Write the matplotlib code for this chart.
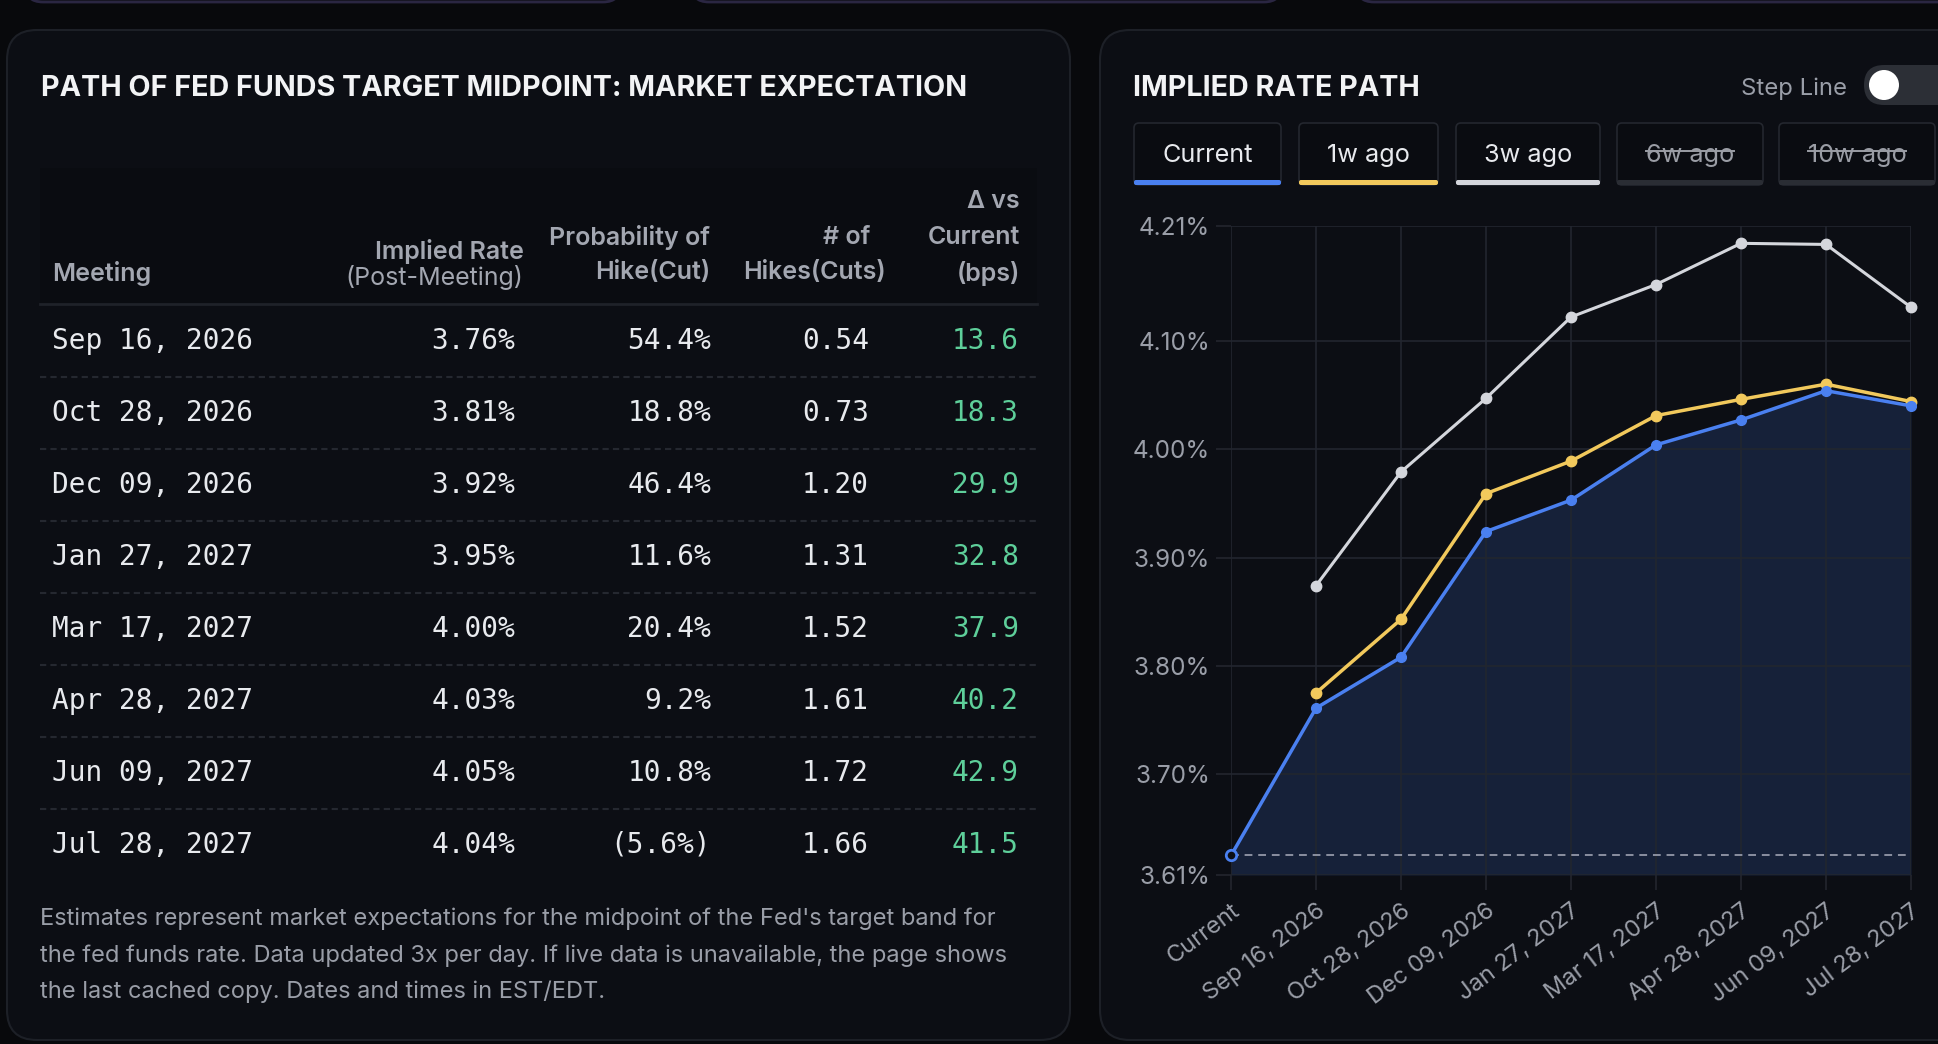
import numpy as np
import matplotlib
matplotlib.use("Agg")
import matplotlib.pyplot as plt
from matplotlib.patches import FancyBboxPatch, Rectangle, Circle

# ---- data ----
meetings = ["Sep 16, 2026", "Oct 28, 2026", "Dec 09, 2026", "Jan 27, 2027",
            "Mar 17, 2027", "Apr 28, 2027", "Jun 09, 2027", "Jul 28, 2027"]
implied_rate = [3.76, 3.81, 3.92, 3.95, 4.00, 4.03, 4.05, 4.04]
prob_hike = [54.4, 18.8, 46.4, 11.6, 20.4, 9.2, 10.8, -5.6]
num_hikes = [0.54, 0.73, 1.20, 1.31, 1.52, 1.61, 1.72, 1.66]
delta_bps = [13.6, 18.3, 29.9, 32.8, 37.9, 40.2, 42.9, 41.5]

chart_labels = ["Current"] + meetings
current_rate = 3.625
path_current = [3.625, 3.761, 3.808, 3.924, 3.953, 4.004, 4.027, 4.054, 4.040]
path_1w = [np.nan, 3.775, 3.843, 3.959, 3.989, 4.031, 4.046, 4.060, 4.044]
path_3w = [np.nan, 3.874, 3.979, 4.047, 4.122, 4.152, 4.190, 4.189, 4.131]
y_range = (3.607, 4.206)
y_ticks = [3.607, 3.70, 3.80, 3.90, 4.00, 4.10, 4.206]

buttons = ["Current", "1w ago", "3w ago", "6w ago", "10w ago"]
button_on = [True, True, True, False, False]

footnote_lines = [
    "Estimates represent market expectations for the midpoint of the Fed's target band for",
    "the fed funds rate. Data updated 3x per day. If live data is unavailable, the page shows",
    "the last cached copy. Dates and times in EST/EDT.",
]

# ---- colours ----
BG = "#08090c"
CARD = "#0c0e14"
EDGE = "#1d2027"
BLUE = "#4a80f0"
YELLOW = "#f2c95c"
GREY = "#d4d6dc"
GREEN = "#5ecf9a"
MUTED = "#9a9ea8"
WHITE = "#e8eaee"
SANS = ["Inter", "DejaVu Sans"]
MONO = "DejaVu Sans Mono"

W, H = 1938, 1044
fig = plt.figure(figsize=(W / 100, H / 100), dpi=100)
fig.patch.set_facecolor(BG)

# overlay in pixel coordinates (y down)
ov = fig.add_axes([0, 0, 1, 1])
ov.set_xlim(0, W)
ov.set_ylim(H, 0)
ov.axis("off")

# partial cards peeking in at the top
for x0, x1 in [(25, 621), (691, 1282), (1356, 1990)]:
    ov.add_patch(FancyBboxPatch((x0, -60), x1 - x0, 62, boxstyle="round,pad=0,rounding_size=18",
                                fc="#0b0c12", ec="#2a2642", lw=2))

# main cards
ov.add_patch(FancyBboxPatch((7, 30), 1063, 1010, boxstyle="round,pad=0,rounding_size=30",
                            fc=CARD, ec=EDGE, lw=1.5))
ov.add_patch(FancyBboxPatch((1100, 30), 900, 1010, boxstyle="round,pad=0,rounding_size=30",
                            fc=CARD, ec=EDGE, lw=1.5))

# ---- left panel: table ----
ov.text(41, 86, "PATH OF FED FUNDS TARGET MIDPOINT: MARKET EXPECTATION", family=SANS,
        fontsize=20.7, fontweight="bold", color="#f2f3f5", va="center_baseline", ha="left")

ov.add_patch(Rectangle((40, 168), 997, 136, fc="#0a0c11", ec="none"))
hdr = dict(family=SANS, fontsize=18, fontweight="semibold", color="#a3a7b1", va="center")
ov.text(52, 273, "Meeting", ha="left", **hdr)
ov.text(524, 251, "Implied Rate", ha="right", **hdr)
ov.text(523, 278, "(Post-Meeting)", ha="right", family=SANS, fontsize=18,
        color="#a3a7b1", va="center")
ov.text(710, 237, "Probability of", ha="right", **hdr)
ov.text(710, 273, "Hike(Cut)", ha="right", **hdr)
ov.text(870, 237, "# of", ha="right", **hdr)
ov.text(886, 273, "Hikes(Cuts)", ha="right", **hdr)
ov.text(1020, 202, "\u0394 vs", ha="right", **hdr)
ov.text(1020, 237, "Current", ha="right", **hdr)
ov.text(1020, 273, "(bps)", ha="right", **hdr)
ov.plot([40, 1037], [304, 304], color="#1f2229", lw=2)

row0, row_h = 340.7, 72.0
cell = dict(family=MONO, fontsize=20, va="center")
for i, m in enumerate(meetings):
    y = row0 + i * row_h
    p = prob_hike[i]
    p_txt = f"{p:.1f}%" if p >= 0 else f"({abs(p):.1f}%)"
    ov.text(52, y, m, ha="left", color=WHITE, **cell)
    ov.text(515, y, f"{implied_rate[i]:.2f}%", ha="right", color=WHITE, **cell)
    ov.text(711, y, p_txt, ha="right", color=WHITE, **cell)
    ov.text(869, y, f"{num_hikes[i]:.2f}", ha="right", color=WHITE, **cell)
    ov.text(1019, y, f"{delta_bps[i]:.1f}", ha="right", color=GREEN, **cell)
    if i < len(meetings) - 1:
        ov.plot([40, 1037], [y + row_h / 2] * 2, color="#252830", lw=1.5, ls=(0, (3, 2)))

for k, line in enumerate(footnote_lines):
    ov.text(40, 919 + k * 36.3, line, family=SANS, fontsize=17, color=MUTED,
            va="center", ha="left")

# ---- right panel header ----
ov.text(1133, 86, "IMPLIED RATE PATH", family=SANS, fontsize=20.7, fontweight="bold",
        color="#f2f3f5", va="center_baseline", ha="left")
ov.text(1847, 86, "Step Line", family=SANS, fontsize=17.2, color=MUTED,
        va="center_baseline", ha="right")
ov.add_patch(FancyBboxPatch((1864, 65), 100, 40, boxstyle="round,pad=0,rounding_size=20",
                            fc="#2c2f36", ec="none"))
ov.add_patch(Circle((1884, 85), 15, fc="white", ec="none"))

btn_x = [(1134, 1281), (1299, 1438), (1456, 1600), (1617, 1763), (1779, 1935)]
btn_colors = [BLUE, YELLOW, GREY, "#2a2d34", "#2a2d34"]
fig.canvas.draw()
renderer = fig.canvas.get_renderer()
inv = ov.transData.inverted()
for (x0, x1), name, on, c in zip(btn_x, buttons, button_on, btn_colors):
    ov.add_patch(FancyBboxPatch((x0, 123), x1 - x0, 62, boxstyle="round,pad=0,rounding_size=5",
                                fc="#0a0c11", ec="#24272f", lw=1.2))
    ov.add_patch(FancyBboxPatch((x0, 180), x1 - x0, 5, boxstyle="round,pad=0,rounding_size=2",
                                fc=c, ec="none"))
    t = ov.text((x0 + x1) / 2, 153, name, family=SANS, fontsize=18.2,
                color=WHITE if on else "#9a9da5", ha="center", va="center_baseline")
    if not on:
        bb = t.get_window_extent(renderer)
        (xa, _), (xb, _) = inv.transform([(bb.x0, 0), (bb.x1, 0)])
        ov.plot([xa, xb], [151, 151], color="#9a9da5", lw=1.4)

# ---- chart ----
ax = fig.add_axes([1231 / W, 1 - 875 / H, 680 / W, 649 / H])
ax.set_facecolor("none")
x = np.arange(len(chart_labels))
ax.fill_between(x, path_current, y_range[0], color=BLUE, alpha=0.17, lw=0, zorder=1)
ax.axhline(current_rate, color="#8b90a0", lw=1.4, ls=(0, (4, 3)), zorder=2)
ax.plot(x, path_3w, color=GREY, lw=2.2, marker="o", ms=7.5, zorder=3, clip_on=False)
ax.plot(x, path_1w, color=YELLOW, lw=2.5, marker="o", ms=7.5, zorder=4, clip_on=False)
ax.plot(x[1:], path_current[1:], color=BLUE, lw=2.5, marker="o", ms=7, zorder=5, clip_on=False)
ax.plot(x[:2], path_current[:2], color=BLUE, lw=2.5, zorder=5, clip_on=False)
ax.plot(x[0], path_current[0], marker="o", ms=7.5, mfc=CARD, mec=BLUE, mew=2, zorder=6,
        clip_on=False)

ax.set_xlim(x[0], x[-1])
ax.set_ylim(*y_range)
ax.set_yticks(y_ticks)
ax.set_yticklabels([f"{v:.2f}%" for v in y_ticks])
ax.set_xticks(x)
ax.set_xticklabels(chart_labels, rotation=37, ha="right", va="top", rotation_mode="anchor")
ax.grid(color="#22262f", lw=1.2, zorder=0)
ax.tick_params(length=11, width=1.2, color="#23262e", labelcolor=MUTED, labelsize=17.5, pad=4)
ax.tick_params(axis="x", labelsize=17, pad=7)
for lab in ax.get_xticklabels() + ax.get_yticklabels():
    lab.set_family(SANS)
for s in ax.spines.values():
    s.set_visible(False)

fig.savefig("out.png", dpi=100, facecolor=BG)
